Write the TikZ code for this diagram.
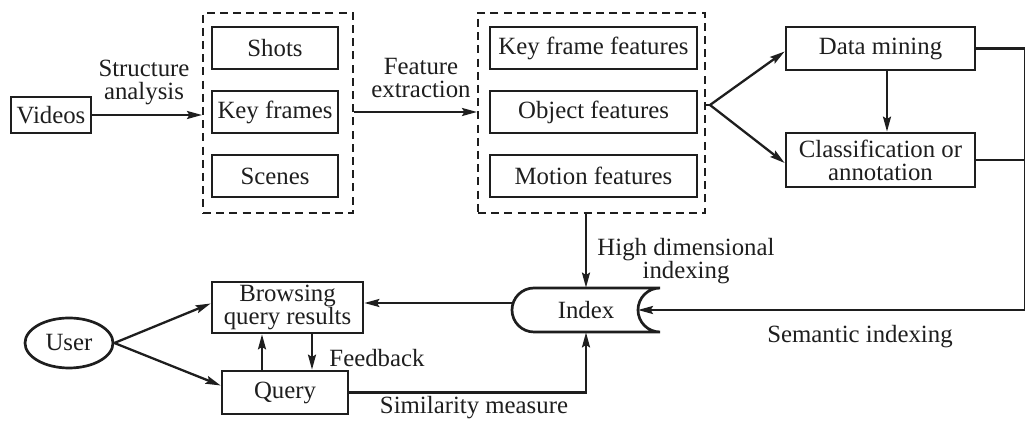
\documentclass[tikz,border=0pt]{standalone}
\usepackage{fontspec}
\setmainfont{Liberation Serif}
\usetikzlibrary{arrows.meta,shapes.geometric,calc}
\definecolor{ink}{HTML}{1E1E1E}
\begin{document}
\begin{tikzpicture}[x=0.5pt,y=-0.5pt,
  every node/.style={font=\fontsize{12.4}{11.5}\selectfont, text=ink, inner sep=0pt},
  box/.style={draw=ink, line width=1.35pt, rectangle, align=center},
  groupbox/.style={draw=ink, line width=1.0pt, dash pattern=on 4pt off 2.6pt, rectangle},
  conn/.style={draw=ink, line width=1.15pt},
  arr/.style={conn, -{Stealth[length=7.5pt,width=4pt,inset=1.2pt]}},
  lbl/.style={align=center}]
\useasboundingbox (0,0) rectangle (1025,421);

% acquisition side
\node[box, minimum width=40pt, minimum height=18pt] (videos) at (51,115) {Videos};
\node[groupbox, minimum width=75pt, minimum height=100pt] (g1) at (278,113) {};
\node[box, minimum width=63pt, minimum height=21pt] (shots) at (275,48) {Shots};
\node[box, minimum width=63pt, minimum height=21pt] (keyfr) at (275,112) {Key frames};
\node[box, minimum width=63pt, minimum height=21pt] (scenes) at (275,176) {Scenes};

% feature groups
\node[groupbox, minimum width=113.5pt, minimum height=100pt] (g2) at (591.5,113) {};
\node[box, minimum width=103.5pt, minimum height=21pt] (kff) at (593.5,48) {Key frame features};
\node[box, minimum width=103.5pt, minimum height=21pt] (objf) at (593.5,112) {Object features};
\node[box, minimum width=103.5pt, minimum height=21pt] (motf) at (593.5,176) {Motion features};

% analysis
\node[box, minimum width=94.5pt, minimum height=21.5pt] (dm) at (880.5,48.5) {Data mining};
\node[box, minimum width=94.5pt, minimum height=27pt] (cl) at (880.5,160) {Classification or\\annotation};

% retrieval side
\node[minimum width=74pt, minimum height=22pt] (index) at (586,310) {Index};
\node[box, minimum width=75.5pt, minimum height=25.5pt] (browse) at (287.5,307.5) {Browsing\\query results};
\node[draw=ink, line width=1.35pt, ellipse, minimum width=44pt, minimum height=25pt] (user) at (69,343) {User};
\node[box, minimum width=63pt, minimum height=21.5pt] (query) at (285,392.5) {Query};

% index store outline: rounded left end, hollowed right end
\draw[conn, line width=1.35pt]
  (534,288) -- (660,288)
  .. controls (647.85,288) and (638,297.85) .. (638,310)
  .. controls (638,322.15) and (647.85,332) .. (660,332)
  -- (534,332)
  .. controls (521.85,332) and (512,322.15) .. (512,310)
  .. controls (512,297.85) and (521.85,288) .. (534,288) -- cycle;

\coordinate (idxin) at (638,310);
\coordinate (idxout) at (513,303);
\coordinate (branch) at (710,105);
\coordinate (rail) at (1025,0);
\coordinate (upx) at (262,0);
\coordinate (downx) at (312,0);
\coordinate (vmid) at (887,0);

% connectors
\draw[arr] (videos.east) -- (videos.east -| g1.west);
\node[lbl] (lsa) at (144,82) {Structure\\analysis};
\draw[arr] (keyfr.east -| g1.east) -- (keyfr.east -| g2.west);
\node[lbl] (lfe) at (421,78) {Feature\\extraction};

\draw[conn] (branch) -- (branch -| g2.east);
\draw[arr] (branch) -- ($(dm.west)+(0,3)$);
\draw[arr] (branch) -- ($(cl.west)+(0,3)$);
\draw[arr] (vmid |- dm.south) -- (vmid |- cl.north);

\draw[conn] (dm.east) -- (dm.east -| rail);
\draw[conn] (cl.east) -- (cl.east -| rail);
\draw[conn] (rail |- dm.east) -- (rail |- idxin);
\draw[arr] (rail |- idxin) -- (idxin);
\node[lbl] (lsem) at (860,337) {Semantic indexing};

\draw[arr] (index.north |- g2.south) -- (index.north);
\node[lbl] (lhd) at (686,261) {High dimensional\\indexing};

\draw[arr] (idxout) -- (idxout -| browse.east);
\draw[arr] (user.east) -- ($(browse.west)+(0,-4)$);
\draw[arr] (user.east) -- ($(query.west)+(0,-7)$);

\draw[arr] (upx |- query.north) -- (upx |- browse.south);
\draw[arr] (downx |- browse.south) -- (downx |- query.north);
\node[lbl] (lfb) at (377,358) {Feedback};

\draw[arr] (query.east) -| (index.south);
\node[lbl] (lsim) at (474,408) {Similarity measure};
\end{tikzpicture}
\end{document}
